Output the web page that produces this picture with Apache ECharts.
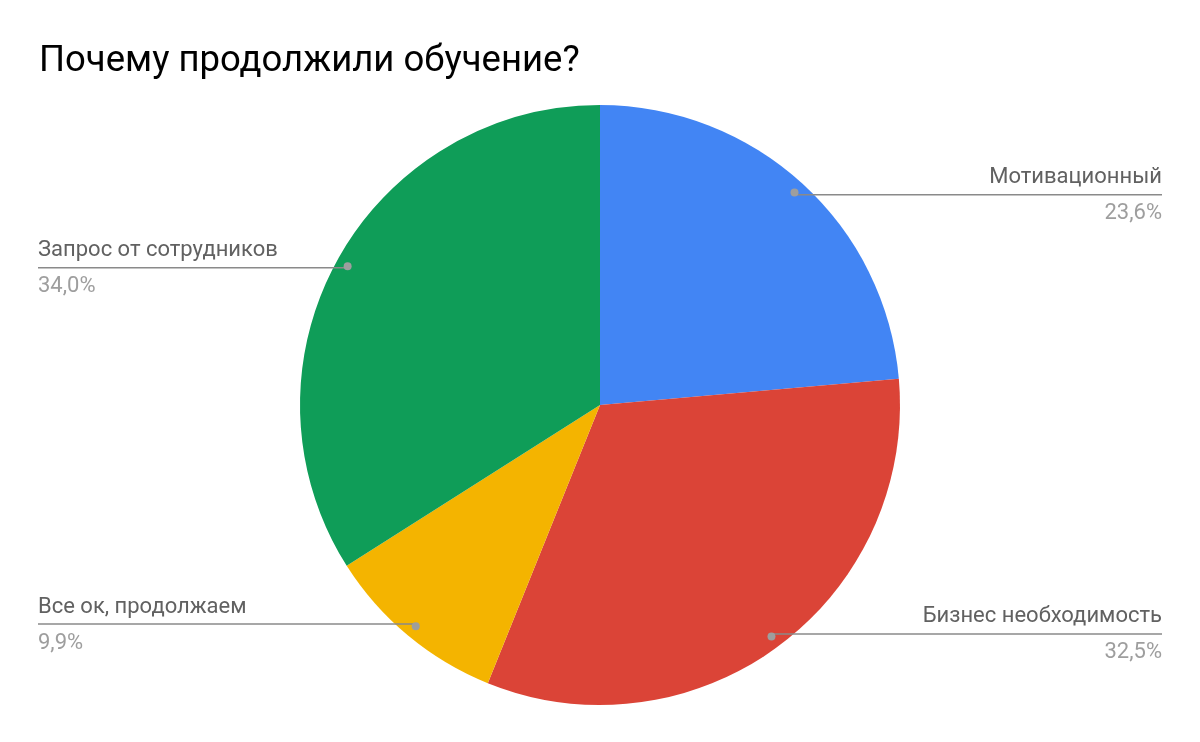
<!DOCTYPE html>
<html><head><meta charset="utf-8">
<script src="https://cdn.jsdelivr.net/npm/echarts@6/dist/echarts.min.js"></script>
<style>html,body{margin:0;padding:0;background:#fff}#c{width:1200px;height:742px}</style>
</head><body><div id="c"></div>
<script>
const categories = ['Мотивационный', 'Бизнес необходимость', 'Все ок, продолжаем', 'Запрос от сотрудников'];
const values = [23.6, 32.5, 9.9, 34.0];
const colors = ['#4285F4', '#DB4437', '#F4B400', '#0F9D58'];
const titleText = 'Почему продолжили обучение?';

const CX = 600, CY = 405, R = 300, DOT_R = 285;
const total = values.reduce((a, b) => a + b, 0);
function midAngle(i) {
  let s = 0;
  for (let k = 0; k < i; k++) s += values[k];
  return (s + values[i] / 2) / total * Math.PI * 2;
}
const fmt = v => v.toFixed(1).replace('.', ',') + '%';
const data = categories.map((c, i) => ({ name: c, value: values[i], itemStyle: { color: colors[i] } }));
const ghost = categories.map((c, i) => ({ name: c, value: values[i], itemStyle: { color: 'rgba(0,0,0,0)' } }));

const chart = echarts.init(document.getElementById('c'));
chart.setOption({
  animation: false,
  title: { text: titleText, left: 34, top: 38, textStyle: { fontFamily: 'Roboto', fontSize: 36.5, fontWeight: 'normal', color: '#000' } },
  series: [{
    type: 'pie',
    center: [CX, CY],
    radius: R,
    startAngle: 90,
    clockwise: true,
    silent: true,
    z: 1,
    data: data,
    label: { show: false },
    labelLine: { show: false }
  }, {
    type: 'pie',
    center: [CX, CY],
    radius: R,
    startAngle: 90,
    clockwise: true,
    silent: true,
    z: 5,
    data: ghost,
    label: {
      show: true,
      formatter: p => '{n|' + p.name + '}\n{v|' + fmt(p.value) + '}',
      rich: {
        n: { fontFamily: 'Roboto', fontSize: 22, color: '#616161', lineHeight: 36 },
        v: { fontFamily: 'Roboto', fontSize: 22, color: '#9e9e9e', lineHeight: 36 }
      }
    },
    labelLine: { show: true, smooth: false, lineStyle: { color: '#8a8a8a', width: 1.5 } },
    labelLayout: function (params) {
      const a = midAngle(params.dataIndex);
      const dx = CX + DOT_R * Math.sin(a), dy = CY - DOT_R * Math.cos(a);
      const right = Math.sin(a) > 0;
      const ex = right ? 1162 : 38;
      return {
        x: ex, y: dy + 1, align: right ? 'right' : 'left', verticalAlign: 'middle',
        labelLinePoints: [[dx, dy], [(dx + ex) / 2, dy], [ex, dy]]
      };
    }
  }, {
    type: 'pie',
    center: [CX, CY],
    radius: [2 * DOT_R - R, R],
    startAngle: 90,
    clockwise: true,
    silent: true,
    z: 10,
    data: ghost,
    label: {
      show: true, position: 'inside',
      formatter: '{d| }',
      rich: { d: { width: 8, height: 8, borderRadius: 4, backgroundColor: '#9e9e9e', fontSize: 1, lineHeight: 8 } }
    },
    labelLine: { show: false }
  }]
});
</script></body></html>
